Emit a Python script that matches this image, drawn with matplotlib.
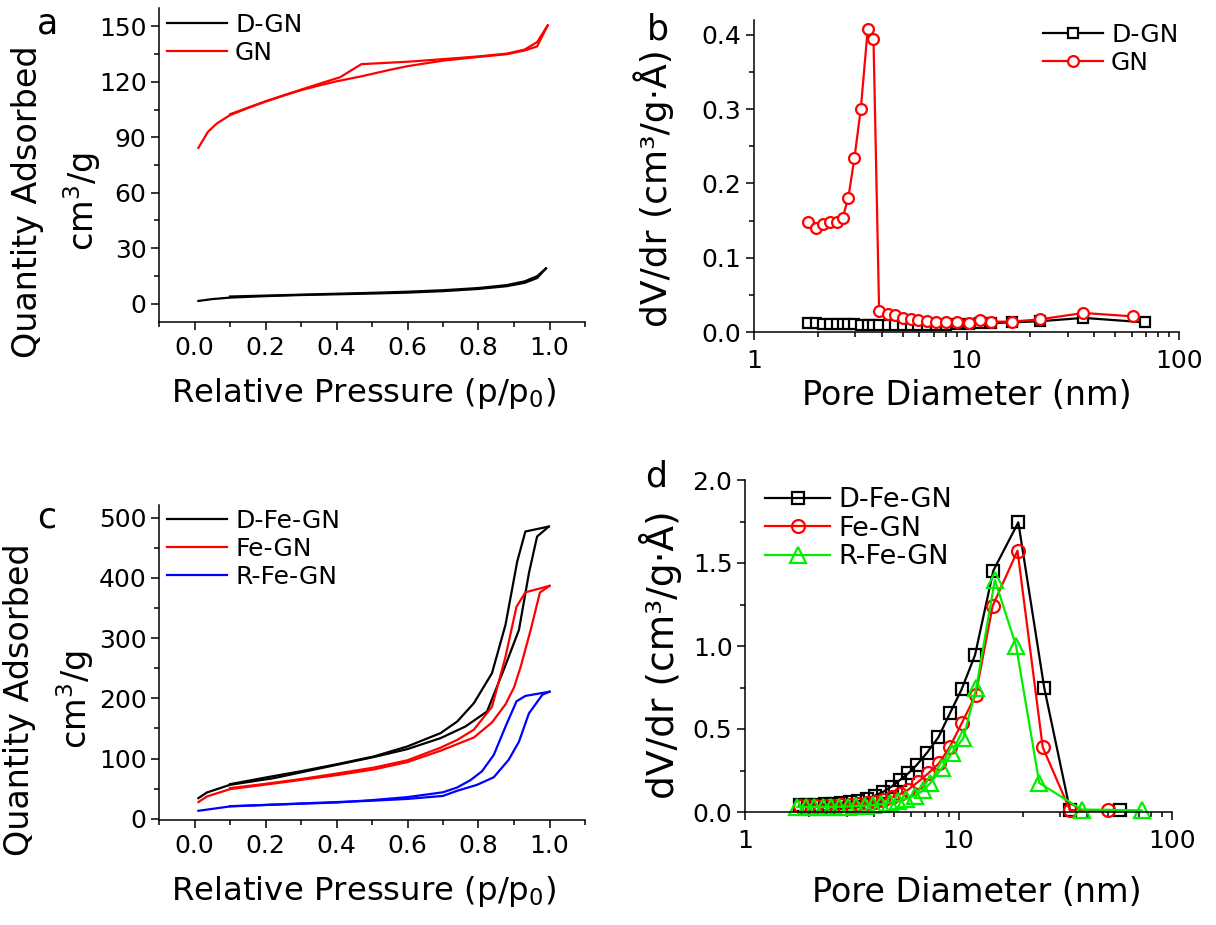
import matplotlib
matplotlib.use('agg')
import matplotlib.pyplot as plt
from matplotlib.ticker import MultipleLocator, FuncFormatter, LogLocator, NullFormatter, FormatStrFormatter

plt.rcParams['font.family'] = 'DejaVu Sans'
plt.rcParams['mathtext.fontset'] = 'dejavusans'

W, H = 1216, 925

# ---- panel a: isotherms (adsorption / desorption branches) ----
gn_p_ads = [0.011, 0.038, 0.063, 0.10, 0.15, 0.20, 0.25, 0.30, 0.35, 0.40, 0.47, 0.55, 0.60, 0.70, 0.80, 0.88, 0.93, 0.965, 0.995]
gn_q_ads = [84.3, 93.0, 97.5, 102.0, 105.8, 109.3, 112.5, 115.5, 118.0, 120.3, 123.0, 126.5, 128.5, 131.5, 133.5, 135.0, 137.0, 139.2, 150.6]
gn_p_des = [0.995, 0.965, 0.93, 0.88, 0.80, 0.70, 0.60, 0.47, 0.41, 0.36, 0.30, 0.20, 0.10]
gn_q_des = [150.6, 141.5, 137.5, 135.3, 133.8, 132.3, 130.9, 129.6, 122.5, 119.5, 115.8, 109.5, 102.5]

dgn_p_ads = [0.011, 0.05, 0.10, 0.20, 0.30, 0.40, 0.50, 0.60, 0.70, 0.80, 0.88, 0.93, 0.965, 0.99]
dgn_q_ads = [1.4, 2.4, 3.2, 4.0, 4.6, 5.0, 5.4, 5.9, 6.7, 7.9, 9.4, 11.2, 13.8, 19.0]
dgn_p_des = [0.99, 0.965, 0.93, 0.88, 0.80, 0.70, 0.60, 0.50, 0.40, 0.30, 0.20, 0.10]
dgn_q_des = [19.0, 14.8, 12.0, 10.0, 8.4, 7.2, 6.4, 5.8, 5.3, 4.8, 4.3, 3.8]

# ---- panel b: pore size distribution ----
gn_d = [1.79, 1.96, 2.12, 2.28, 2.45, 2.61, 2.78, 2.97, 3.18, 3.43, 3.65, 3.88, 4.26, 4.61, 5.04, 5.48,
        5.89, 6.50, 7.16, 7.98, 8.99, 10.27, 11.58, 13.04, 16.3, 22.2, 35.5, 61.0]
gn_v = [0.148, 0.140, 0.146, 0.1475, 0.148, 0.153, 0.181, 0.2345, 0.300, 0.408, 0.3946, 0.0283, 0.0242,
        0.0229, 0.0184, 0.0175, 0.0162, 0.0153, 0.0139, 0.013, 0.013, 0.0117, 0.0162, 0.0139, 0.0139,
        0.0171, 0.0256, 0.021]
dgn_d = [1.79, 1.96, 2.12, 2.28, 2.45, 2.61, 2.78, 2.97, 3.18, 3.43, 3.65, 3.88, 4.26, 4.61, 5.04, 5.48,
         5.89, 6.50, 7.16, 7.98, 8.99, 10.27, 11.58, 13.04, 16.3, 22.2, 35.5, 69.0]
dgn_v = [0.012, 0.0125, 0.011, 0.011, 0.0105, 0.0105, 0.011, 0.0105, 0.010, 0.010, 0.0098, 0.0095, 0.0095,
         0.0093, 0.0092, 0.0092, 0.0093, 0.0095, 0.0097, 0.010, 0.0105, 0.011, 0.0115, 0.012, 0.013,
         0.0145, 0.019, 0.013]

# ---- panel c: isotherms ----
dfe_p_ads = [0.011, 0.035, 0.10, 0.223, 0.401, 0.505, 0.599, 0.693, 0.763, 0.824, 0.871, 0.914, 0.942, 0.965, 0.998]
dfe_q_ads = [34.3, 43.7, 56.4, 67.5, 89.6, 102.5, 115.6, 133.9, 153.2, 178.1, 247.3, 313.7, 407.7, 468.6, 485.2]
dfe_p_des = [0.998, 0.932, 0.909, 0.876, 0.838, 0.787, 0.74, 0.693, 0.599, 0.505, 0.40, 0.30, 0.20, 0.10]
dfe_q_des = [485.2, 477.0, 427.0, 322.0, 241.8, 192.0, 161.5, 142.2, 120.0, 103.5, 90.5, 79.0, 68.5, 57.5]

fe_p_ads = [0.011, 0.035, 0.10, 0.223, 0.401, 0.505, 0.599, 0.693, 0.787, 0.838, 0.876, 0.90, 0.919, 0.947, 0.973, 1.0]
fe_q_ads = [27.7, 37.1, 49.2, 58.5, 72.5, 82.0, 94.0, 113.0, 135.0, 160.0, 190.0, 218.0, 252.8, 313.7, 375.7, 386.7]
fe_p_des = [1.0, 0.932, 0.907, 0.876, 0.838, 0.787, 0.74, 0.693, 0.599, 0.505, 0.40, 0.30, 0.20, 0.10]
fe_q_des = [386.7, 376.0, 352.0, 269.0, 186.0, 148.0, 131.0, 118.0, 97.0, 85.0, 75.0, 66.0, 58.0, 51.0]

rfe_p_ads = [0.011, 0.10, 0.30, 0.50, 0.60, 0.70, 0.74, 0.796, 0.843, 0.885, 0.914, 0.942, 0.98, 1.0]
rfe_q_ads = [13.3, 20.5, 25.5, 30.0, 33.0, 38.0, 46.5, 56.4, 69.0, 98.0, 128.0, 175.0, 206.0, 211.0]
rfe_p_des = [1.0, 0.932, 0.907, 0.876, 0.843, 0.81, 0.777, 0.74, 0.70, 0.60, 0.50, 0.40, 0.30, 0.20, 0.10]
rfe_q_des = [211.0, 204.0, 195.0, 153.0, 106.0, 79.0, 64.0, 52.0, 44.0, 36.0, 31.0, 27.0, 25.0, 23.0, 21.0]

# ---- panel d: pore size distribution ----
dfe_d = [1.80, 1.97, 2.16, 2.36, 2.58, 2.83, 3.10, 3.40, 3.72, 4.06, 4.44, 4.86, 5.32, 5.82, 6.37, 7.10,
         8.05, 9.12, 10.35, 11.95, 14.56, 19.06, 25.2, 33.3, 57.1]
dfe_v = [0.040, 0.041, 0.043, 0.046, 0.050, 0.055, 0.060, 0.066, 0.080, 0.098, 0.122, 0.153, 0.193, 0.233,
         0.283, 0.355, 0.450, 0.595, 0.740, 0.945, 1.454, 1.745, 0.749, 0.010, 0.010]
fe_d = [1.80, 1.97, 2.16, 2.36, 2.58, 2.83, 3.10, 3.40, 3.72, 4.06, 4.44, 4.86, 5.32, 5.82, 6.49, 7.22,
        8.10, 9.12, 10.35, 12.03, 14.45, 18.9, 24.8, 33.3, 50.2]
fe_v = [0.035, 0.035, 0.036, 0.037, 0.039, 0.041, 0.044, 0.048, 0.054, 0.062, 0.073, 0.088, 0.108, 0.135,
        0.183, 0.233, 0.293, 0.394, 0.534, 0.705, 1.241, 1.574, 0.390, 0.010, 0.012]
rfe_d = [1.76, 1.93, 2.11, 2.31, 2.53, 2.77, 3.03, 3.32, 3.63, 3.97, 4.35, 4.76, 5.21, 5.70, 6.24, 6.83,
         7.36, 8.34, 9.29, 10.53, 12.1, 14.8, 18.6, 23.9, 37.8, 72.1]
rfe_v = [0.030, 0.030, 0.030, 0.030, 0.031, 0.032, 0.033, 0.035, 0.038, 0.042, 0.048, 0.056, 0.066, 0.080,
         0.098, 0.130, 0.173, 0.263, 0.354, 0.444, 0.745, 1.398, 1.002, 0.175, 0.015, 0.010]

fig = plt.figure(figsize=(W / 100, H / 100), dpi=100)


def px_rect(l, t, r, b):
    return [l / W, 1 - b / H, (r - l) / W, (b - t) / H]


def style_axes(ax):
    for s in ['top', 'right']:
        ax.spines[s].set_visible(False)
    for s in ['left', 'bottom']:
        ax.spines[s].set_linewidth(1.1)
    ax.tick_params(which='major', direction='out', length=6, width=1.1, labelsize=18, pad=3)
    ax.tick_params(which='minor', direction='out', length=3.5, width=1.1)
    ax.tick_params(axis='x', which='major', pad=4)


def add_legend(ax, x, y, size, spacing):
    ax.legend(loc='upper left', bbox_to_anchor=(x / W, 1 - y / H), bbox_transform=fig.transFigure,
              frameon=False, fontsize=size, borderpad=0, borderaxespad=0,
              handlelength=2.4, handletextpad=0.32, labelspacing=spacing, numpoints=1)


def iso_axes(ax, ymin, ymax, ystep):
    style_axes(ax)
    ax.set_xlim(-0.1, 1.1)
    ax.set_ylim(ymin, ymax)
    ax.xaxis.set_major_locator(MultipleLocator(0.2))
    ax.xaxis.set_minor_locator(MultipleLocator(0.1))
    ax.xaxis.set_major_formatter(FormatStrFormatter('%.1f'))
    ax.yaxis.set_major_locator(MultipleLocator(ystep))
    ax.yaxis.set_minor_locator(MultipleLocator(ystep / 2))


def psd_axes(ax, ymax, ystep):
    style_axes(ax)
    ax.set_xscale('log')
    ax.set_xlim(1, 100)
    ax.set_ylim(0, ymax)
    ax.xaxis.set_major_locator(LogLocator(base=10))
    ax.xaxis.set_minor_locator(LogLocator(base=10, subs=range(2, 10)))
    ax.xaxis.set_major_formatter(FuncFormatter(lambda v, pos: f'{v:g}'))
    ax.xaxis.set_minor_formatter(NullFormatter())
    ax.yaxis.set_major_locator(MultipleLocator(ystep))
    ax.yaxis.set_minor_locator(MultipleLocator(ystep / 2))
    ax.yaxis.set_major_formatter(FormatStrFormatter('%.1f'))
    ax.tick_params(axis='x', which='major', pad=6)


lw = 1.6

# panel a
ax_a = fig.add_axes(px_rect(159, 8, 585, 322))
ax_a.plot(dgn_p_ads, dgn_q_ads, color='black', lw=lw, label='D-GN')
ax_a.plot(dgn_p_des, dgn_q_des, color='black', lw=lw)
ax_a.plot(gn_p_ads, gn_q_ads, color='red', lw=lw, label='GN')
ax_a.plot(gn_p_des, gn_q_des, color='red', lw=lw)
iso_axes(ax_a, -10, 160, 30)
add_legend(ax_a, 167, 12.5, 18, 0.16)

# panel b
ax_b = fig.add_axes(px_rect(754, 20, 1179, 332))
ax_b.plot(dgn_d, dgn_v, color='black', lw=lw, marker='s', ms=6.8, mfc='white', mec='black', mew=1.6,
          label='D-GN', clip_on=False)
ax_b.plot(gn_d, gn_v, color='red', lw=lw, marker='o', ms=7.8, mfc='white', mec='red', mew=1.6,
          label='GN', clip_on=False)
psd_axes(ax_b, 0.42, 0.1)
add_legend(ax_b, 1043, 23, 18, 0.16)

# panel c
ax_c = fig.add_axes(px_rect(159, 505, 585, 820))
ax_c.plot(dfe_p_ads, dfe_q_ads, color='black', lw=lw, label='D-Fe-GN')
ax_c.plot(dfe_p_des, dfe_q_des, color='black', lw=lw)
ax_c.plot(fe_p_ads, fe_q_ads, color='red', lw=lw, label='Fe-GN')
ax_c.plot(fe_p_des, fe_q_des, color='red', lw=lw)
ax_c.plot(rfe_p_ads, rfe_q_ads, color='blue', lw=lw, label='R-Fe-GN')
ax_c.plot(rfe_p_des, rfe_q_des, color='blue', lw=lw)
iso_axes(ax_c, -2, 521, 100)
add_legend(ax_c, 167, 508.5, 18, 0.16)

# panel d
ax_d = fig.add_axes(px_rect(745, 480, 1172, 812))
ax_d.plot(dfe_d, dfe_v, color='black', lw=lw, marker='s', ms=8.3, mfc='none', mec='black', mew=1.6,
          label='D-Fe-GN', clip_on=False)
ax_d.plot(fe_d, fe_v, color='red', lw=lw, marker='o', ms=9.3, mfc='none', mec='red', mew=1.6,
          label='Fe-GN', clip_on=False)
ax_d.plot(rfe_d, rfe_v, color='#00ee00', lw=lw, marker='^', ms=11, mfc='none', mec='#00ee00', mew=1.6,
          label='R-Fe-GN', clip_on=False)
psd_axes(ax_d, 2.0, 0.5)
add_legend(ax_d, 765, 487, 19.5, 0.1)

# axis titles
fs_lab = 24
for yc, x1, x2 in [(202, 28, 82), (700, 20, 75)]:
    fig.text(x1 / W, 1 - yc / H, 'Quantity Adsorbed', rotation=90, ha='center', va='center', fontsize=fs_lab)
    fig.text(x2 / W, 1 - yc / H, 'cm$^3$/g', rotation=90, ha='center', va='center', fontsize=fs_lab)
fig.text(363 / W, 1 - 402 / H, 'Relative Pressure (p/p$_0$)', ha='center', va='baseline', fontsize=23.3)
fig.text(363 / W, 1 - 900 / H, 'Relative Pressure (p/p$_0$)', ha='center', va='baseline', fontsize=23.3)
fig.text(967 / W, 1 - 405 / H, 'Pore Diameter (nm)', ha='center', va='baseline', fontsize=fs_lab)
fig.text(977 / W, 1 - 902 / H, 'Pore Diameter (nm)', ha='center', va='baseline', fontsize=fs_lab)
fig.text(654 / W, 1 - 188 / H, 'dV/dr (cm³/g·Å)', rotation=90, ha='center', va='center', fontsize=26)
fig.text(660 / W, 1 - 655 / H, 'dV/dr (cm³/g·Å)', rotation=90, ha='center', va='center', fontsize=27)

# panel letters
for letter, x, y in [('a', 37, 33), ('b', 647, 40), ('c', 37, 528), ('d', 645, 487)]:
    fig.text(x / W, 1 - y / H, letter, ha='left', va='baseline', fontsize=25)

fig.savefig('out.png', dpi=100)
